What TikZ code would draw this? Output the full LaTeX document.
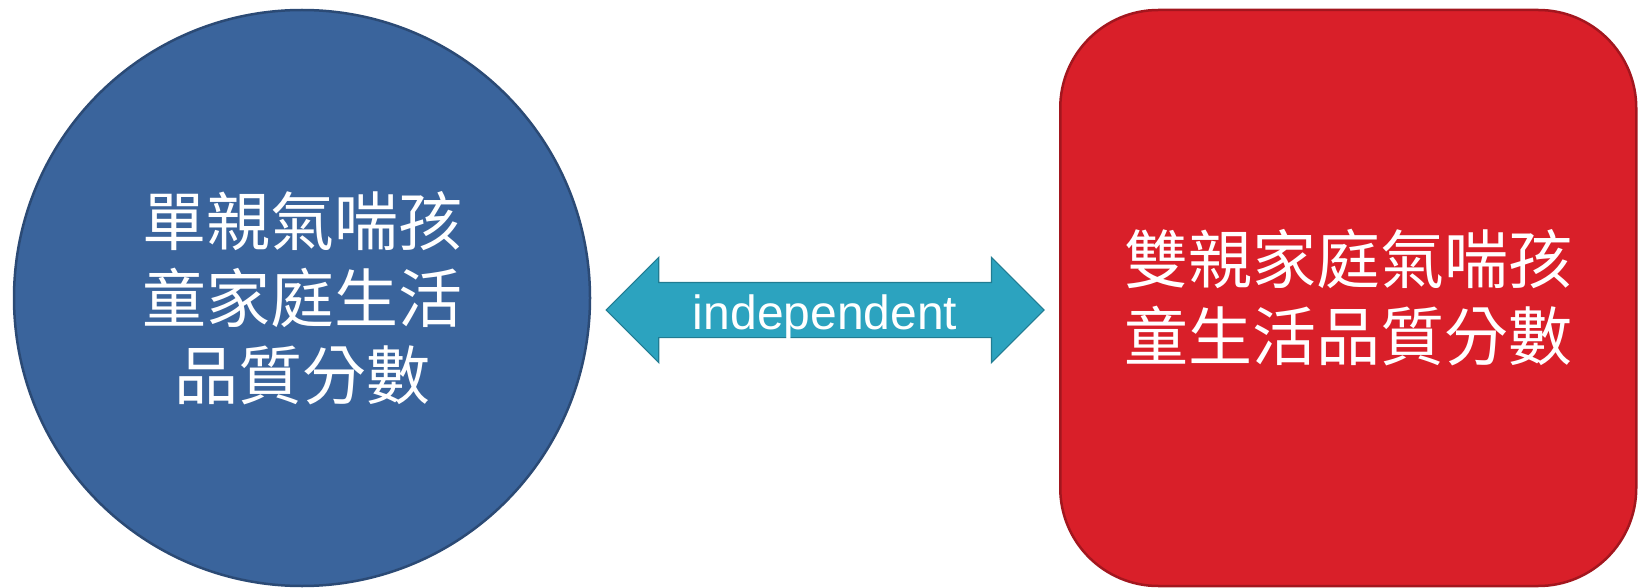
\documentclass[tikz,border=0pt]{standalone}
\usepackage{fontspec}
\setsansfont{Liberation Sans}
\newfontfamily\cjk{Noto Sans CJK TC}
\usepackage{xcolor}
\usepackage{tikz}
\usetikzlibrary{positioning,shapes.arrows}

\definecolor{singleblue}{HTML}{3A649C}
\definecolor{singleedge}{HTML}{2B4A75}
\definecolor{twinred}{HTML}{D91F29}
\definecolor{twinedge}{HTML}{A3161E}
\definecolor{linkteal}{HTML}{2CA3BF}
\definecolor{linkedge}{HTML}{217C92}

\begin{document}
\begin{tikzpicture}[
  x=1pt, y=-1pt,
  node distance=14pt,
  blob/.style={line width=2.5pt, text=white, align=center, font=\cjk\fontsize{64}{77}\selectfont},
  single/.style={blob, circle, minimum size=576pt, fill=singleblue, draw=singleedge},
  twin/.style={blob, rectangle, rounded corners=98pt, minimum width=576pt, minimum height=576pt, fill=twinred, draw=twinedge},
  link/.style={double arrow, double arrow tip angle=90, double arrow head extend=25pt, double arrow head indent=0pt,
    minimum height=438pt, minimum width=104pt, inner sep=0pt, text height=46pt, text depth=8pt,
    fill=linkteal, draw=linkedge, line width=1.2pt, text=white, font=\sffamily\fontsize{48}{56}\selectfont}
]
\useasboundingbox (0,0) rectangle (1638,588);
\node[single] (one) at (302,298) {單親氣喘孩\\童家庭生活\\品質分數};
\node[link, right=of one, yshift=-12pt] (indep) {independent};
\node[twin, right=of indep, yshift=12pt] (two) {雙親家庭氣喘孩\\童生活品質分數};
\end{tikzpicture}
\end{document}
